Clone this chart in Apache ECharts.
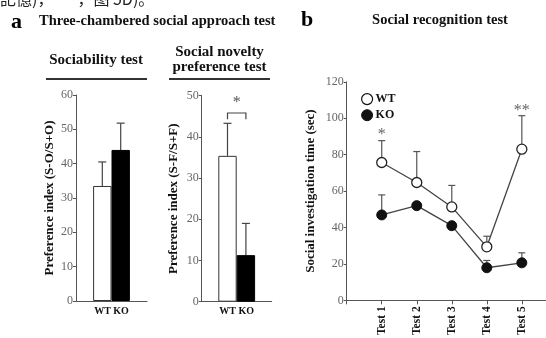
<!DOCTYPE html>
<html><head><meta charset="utf-8">
<script src="https://cdn.jsdelivr.net/npm/echarts@6/dist/echarts.min.js"></script>
<style>html,body{margin:0;padding:0;background:#fff}#c{width:546px;height:338px}</style>
</head><body><div id="c"></div>
<script>
// ---- data ----
const groups = ['WT', 'KO'];
const sociabilityMean = [33.5, 44];
const sociabilityErr = [7, 7.8];
const noveltyMean = [35.4, 11.3];
const noveltyErr = [7.9, 7.7];
const sociabilityTicks = [0, 10, 20, 30, 40, 50, 60];
const noveltyTicks = [0, 10, 20, 30, 40, 50];
const tests = ['Test 1', 'Test 2', 'Test 3', 'Test 4', 'Test 5'];
const wtTime = [75.7, 64.7, 51.3, 29.4, 83];
const wtErr = [12, 17, 11.8, 5.8, 18.4];
const koTime = [46.9, 52, 41, 17.9, 20.6];
const koErr = [11, 0, 0, 4, 5.5];
const timeTicks = [0, 20, 40, 60, 80, 100, 120];
const starsB = [{ x: 1, y: 91, t: '*' }, { x: 5, y: 104, t: '**' }];
const starA = { y: 48.3, t: '*' };
const bracketA = 45.8;

const SERIF = '"Liberation Serif","DejaVu Serif",serif';
const axisGray = '#555';
const chart = echarts.init(document.getElementById('c'), null, { renderer: 'canvas' });

function yAxisCommon(gridIndex, ticks, name, gap) {
  return {
    type: 'value', gridIndex, min: ticks[0], max: ticks[ticks.length - 1],
    interval: ticks[1] - ticks[0],
    name, nameLocation: 'middle', nameGap: gap,
    nameTextStyle: { fontFamily: SERIF, fontWeight: 'bold', fontSize: 13, color: '#111' },
    axisLine: { show: true, lineStyle: { color: axisGray, width: 1 } },
    axisTick: { show: true, length: 3, lineStyle: { color: axisGray } },
    axisLabel: { fontFamily: SERIF, fontSize: 12, color: '#666', margin: 3 },
    splitLine: { show: false }
  };
}

function barErrRender(params, api) {
  const side = api.value(3);
  const p = api.coord([0, api.value(1)]);
  const q = api.coord([0, api.value(1) + api.value(2)]);
  const x = p[0] + side * 9.2;
  return {
    type: 'group', children: [
      { type: 'line', shape: { x1: x, y1: p[1], x2: x, y2: q[1] }, style: { stroke: '#444', lineWidth: 1.2 } },
      { type: 'line', shape: { x1: x - 4, y1: q[1], x2: x + 4, y2: q[1] }, style: { stroke: '#444', lineWidth: 1.2 } }
    ]
  };
}

function lineErrRender(params, api) {
  const p = api.coord([api.value(0), api.value(1)]);
  const q = api.coord([api.value(0), api.value(1) + api.value(2)]);
  if (api.value(2) <= 0) return null;
  return {
    type: 'group', children: [
      { type: 'line', shape: { x1: p[0], y1: p[1], x2: p[0], y2: q[1] }, style: { stroke: '#555', lineWidth: 1.2 } },
      { type: 'line', shape: { x1: p[0] - 3.5, y1: q[1], x2: p[0] + 3.5, y2: q[1] }, style: { stroke: '#555', lineWidth: 1.2 } }
    ]
  };
}

const option = {
  animation: false,
  backgroundColor: '#fff',
  grid: [
    { left: 76, top: 95, width: 71, height: 206 },
    { left: 201.7, top: 95.7, width: 70, height: 206 },
    { left: 346.7, top: 81.8, width: 199.3, height: 219.2 }
  ],
  xAxis: [
    { type: 'category', gridIndex: 0, data: ['WT KO'],
      axisLine: { lineStyle: { color: axisGray } }, axisTick: { show: false },
      axisLabel: { fontFamily: SERIF, fontWeight: 'bold', fontSize: 10, color: '#111', margin: 5 } },
    { type: 'category', gridIndex: 1, data: ['WT KO'],
      axisLine: { lineStyle: { color: axisGray } }, axisTick: { show: false },
      axisLabel: { fontFamily: SERIF, fontWeight: 'bold', fontSize: 10, color: '#111', margin: 5 } },
    { type: 'value', gridIndex: 2, min: 0, max: 5.69, interval: 1,
      axisLine: { lineStyle: { color: axisGray } },
      axisTick: { length: 4, lineStyle: { color: axisGray } },
      splitLine: { show: false },
      axisLabel: { rotate: 90, fontFamily: SERIF, fontWeight: 'bold', fontSize: 11.5, color: '#111', margin: 6,
        showMaxLabel: false,
        formatter: v => (Number.isInteger(v) && v >= 1 && v <= tests.length) ? tests[v - 1] : '' } }
  ],
  yAxis: [
    yAxisCommon(0, sociabilityTicks, 'Preference index (S-O/S+O)', 20),
    yAxisCommon(1, noveltyTicks, 'Preference index (S-F/S+F)', 22),
    yAxisCommon(2, timeTicks, 'Social investigation time (sec)', 30)
  ],
  legend: {
    left: 356, top: 88, orient: 'vertical', itemGap: 4, itemWidth: 11, itemHeight: 11,
    textStyle: { fontFamily: SERIF, fontWeight: 'bold', fontSize: 12, color: '#111', padding: [0, 0, 0, -2] },
    data: [
      { name: 'WT', icon: 'circle', itemStyle: { color: '#fff', borderColor: '#111', borderWidth: 1.2 } },
      { name: 'KO', icon: 'circle', itemStyle: { color: '#111', borderColor: '#111', borderWidth: 1 } }
    ]
  },
  series: [
    { type: 'bar', xAxisIndex: 0, yAxisIndex: 0, barWidth: 18.4, barGap: '0%', z: 2,
      data: [sociabilityMean[0]], itemStyle: { color: '#fff', borderColor: '#333', borderWidth: 1 } },
    { type: 'bar', xAxisIndex: 0, yAxisIndex: 0, barWidth: 18.4, barGap: '0%', z: 2,
      data: [sociabilityMean[1]], itemStyle: { color: '#000', borderColor: '#000', borderWidth: 1 } },
    { type: 'custom', xAxisIndex: 0, yAxisIndex: 0, z: 1, renderItem: barErrRender,
      data: groups.map((g, i) => [0, sociabilityMean[i], sociabilityErr[i], i === 0 ? -1 : 1]) },
    { type: 'bar', xAxisIndex: 1, yAxisIndex: 1, barWidth: 18.4, barGap: '0%', z: 2,
      data: [noveltyMean[0]], itemStyle: { color: '#fff', borderColor: '#333', borderWidth: 1 } },
    { type: 'bar', xAxisIndex: 1, yAxisIndex: 1, barWidth: 18.4, barGap: '0%', z: 2,
      data: [noveltyMean[1]], itemStyle: { color: '#000', borderColor: '#000', borderWidth: 1 } },
    { type: 'custom', xAxisIndex: 1, yAxisIndex: 1, z: 1, renderItem: barErrRender,
      data: groups.map((g, i) => [0, noveltyMean[i], noveltyErr[i], i === 0 ? -1 : 1]) },
    { type: 'custom', xAxisIndex: 1, yAxisIndex: 1, z: 3,
      renderItem: (params, api) => {
        const c = api.coord([0, api.value(1)]);
        const lo = api.coord([0, api.value(1) - 1.5]);
        const s = api.coord([0, starA.y]);
        return { type: 'group', children: [
          { type: 'polyline', shape: { points: [[c[0] - 9.2, lo[1]], [c[0] - 9.2, c[1]], [c[0] + 9.2, c[1]], [c[0] + 9.2, lo[1]]] },
            style: { stroke: '#444', lineWidth: 1.2, fill: null } },
          { type: 'text', x: c[0], y: s[1], style: { text: starA.t, font: '16px ' + SERIF, fill: '#555', align: 'center', verticalAlign: 'middle' } }
        ] };
      },
      data: [[0, bracketA]] },
    { type: 'custom', xAxisIndex: 2, yAxisIndex: 2, z: 1, renderItem: lineErrRender,
      data: tests.map((t, i) => [i + 1, wtTime[i], wtErr[i]]) },
    { type: 'custom', xAxisIndex: 2, yAxisIndex: 2, z: 1, renderItem: lineErrRender,
      data: tests.map((t, i) => [i + 1, koTime[i], koErr[i]]) },
    { name: 'KO', type: 'line', xAxisIndex: 2, yAxisIndex: 2, z: 3, symbol: 'circle', symbolSize: 10,
      lineStyle: { color: '#444', width: 1.3 }, itemStyle: { color: '#111', borderColor: '#111', borderWidth: 1 },
      data: tests.map((t, i) => [i + 1, koTime[i]]) },
    { name: 'WT', type: 'line', xAxisIndex: 2, yAxisIndex: 2, z: 4, symbol: 'circle', symbolSize: 10,
      lineStyle: { color: '#444', width: 1.3 }, itemStyle: { color: '#fff', borderColor: '#222', borderWidth: 1.3 },
      data: tests.map((t, i) => [i + 1, wtTime[i]]) },
    { type: 'custom', xAxisIndex: 2, yAxisIndex: 2, z: 5,
      renderItem: (params, api) => {
        const p = api.coord([api.value(0), api.value(1)]);
        return { type: 'text', x: p[0], y: p[1], style: { text: starsB[params.dataIndex].t, font: '16px ' + SERIF, fill: '#666', align: 'center', verticalAlign: 'middle' } };
      },
      data: starsB.map(s => [s.x, s.y]) }
  ],
  graphic: [
    { type: 'text', left: 0, top: -9, style: { text: '記憶)，　　，图 5D)。', font: '16px "Noto Sans CJK SC"', fill: '#222' } },
    { type: 'text', left: 11, top: 11, style: { text: 'a', font: 'bold 22px ' + SERIF, fill: '#000' } },
    { type: 'text', left: 39, top: 14, style: { text: 'Three-chambered social approach test', font: 'bold 14.5px ' + SERIF, fill: '#111' } },
    { type: 'text', x: 96, y: 60, style: { text: 'Sociability test', font: 'bold 15px ' + SERIF, fill: '#111', align: 'center', verticalAlign: 'middle' } },
    { type: 'text', x: 219.5, y: 52, style: { text: 'Social novelty', font: 'bold 15px ' + SERIF, fill: '#111', align: 'center', verticalAlign: 'middle' } },
    { type: 'text', x: 219.5, y: 67, style: { text: 'preference test', font: 'bold 15px ' + SERIF, fill: '#111', align: 'center', verticalAlign: 'middle' } },
    { type: 'line', shape: { x1: 46, y1: 79, x2: 147, y2: 79 }, style: { stroke: '#333', lineWidth: 2 } },
    { type: 'line', shape: { x1: 169, y1: 79, x2: 270, y2: 79 }, style: { stroke: '#333', lineWidth: 2 } },
    { type: 'text', left: 301, top: 9, style: { text: 'b', font: 'bold 22px ' + SERIF, fill: '#000' } },
    { type: 'text', x: 440, y: 20, style: { text: 'Social recognition test', font: 'bold 14.5px ' + SERIF, fill: '#111', align: 'center', verticalAlign: 'middle' } }
  ]
};
chart.setOption(option);
</script>
</body></html>
